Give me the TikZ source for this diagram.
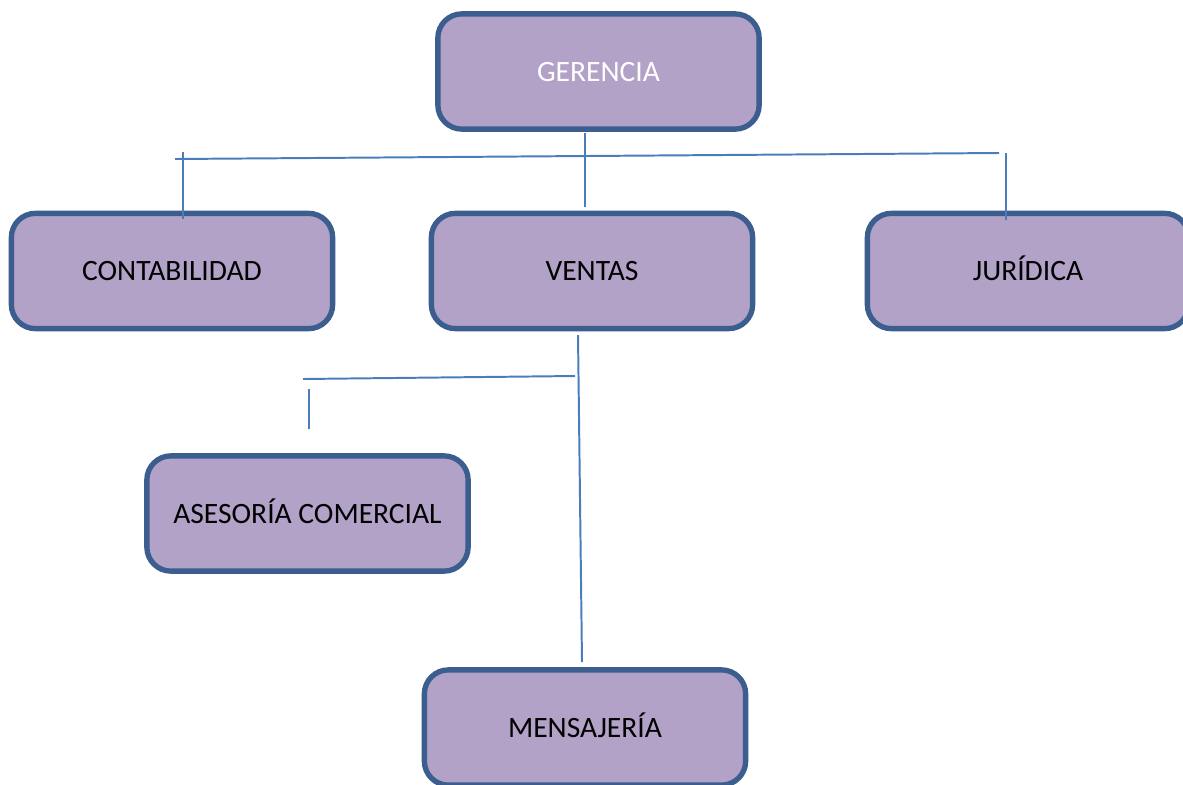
\documentclass[tikz,border=0pt]{standalone}
\usepackage{fontspec}
\setmainfont{Carlito}
\definecolor{boxfill}{HTML}{B2A2C7}
\definecolor{boxline}{HTML}{3B5E8E}
\definecolor{conline}{HTML}{4A7EBB}
\tikzset{
  areabox/.style={draw=boxline, fill=boxfill, line width=3.8pt, rounded corners=0.6cm,
    minimum width=8.03cm, minimum height=2.88cm, inner sep=0pt, text height=1.4em, text depth=0pt,
    font=\fontsize{21}{25}\selectfont},
  conn/.style={draw=conline, line width=1.4pt}
}
\begin{document}
\begin{tikzpicture}[x=0.025cm, y=-0.025cm]
			%%%%% START %%%%%
			\useasboundingbox (0, 0) rectangle (1183, 784);
			
			\node[areabox, text=white] (gerencia) at (598.5, 71.5) {GERENCIA};
			\node[areabox] (contabilidad) at (172, 271) {CONTABILIDAD};
			\node[areabox] (ventas) at (592, 271) {VENTAS};
			\node[areabox] (juridica) at (1028, 271) {JURÍDICA};
			\node[areabox] (asesoria) at (307.5, 513.5) {ASESORÍA COMERCIAL};
			\node[areabox] (mensajeria) at (585, 727.5) {MENSAJERÍA};
			
			% first level
			\coordinate (g1) at (585, 133);
			\coordinate (g2) at (585, 207);
			\coordinate (h1) at (175, 159);
			\coordinate (h2) at (999, 153);
			\coordinate (c1) at (183, 152);
			\coordinate (c2) at (183, 219);
			\coordinate (j1) at (1006, 153);
			\coordinate (j2) at (1006, 220);
			\draw[conn] (g1) -- (g2);
			\draw[conn] (h1) -- (h2);
			\draw[conn] (c1) -- (c2);
			\draw[conn] (j1) -- (j2);
			
			% second level
			\coordinate (v1) at (578, 335);
			\coordinate (v2) at (582, 662);
			\coordinate (k1) at (303, 379);
			\coordinate (k2) at (575, 376);
			\coordinate (a1) at (309, 389);
			\coordinate (a2) at (309, 429);
			\draw[conn] (v1) -- (v2);
			\draw[conn] (k1) -- (k2);
			\draw[conn] (a1) -- (a2);
			%%%%% END %%%%%
\end{tikzpicture}
\end{document}
